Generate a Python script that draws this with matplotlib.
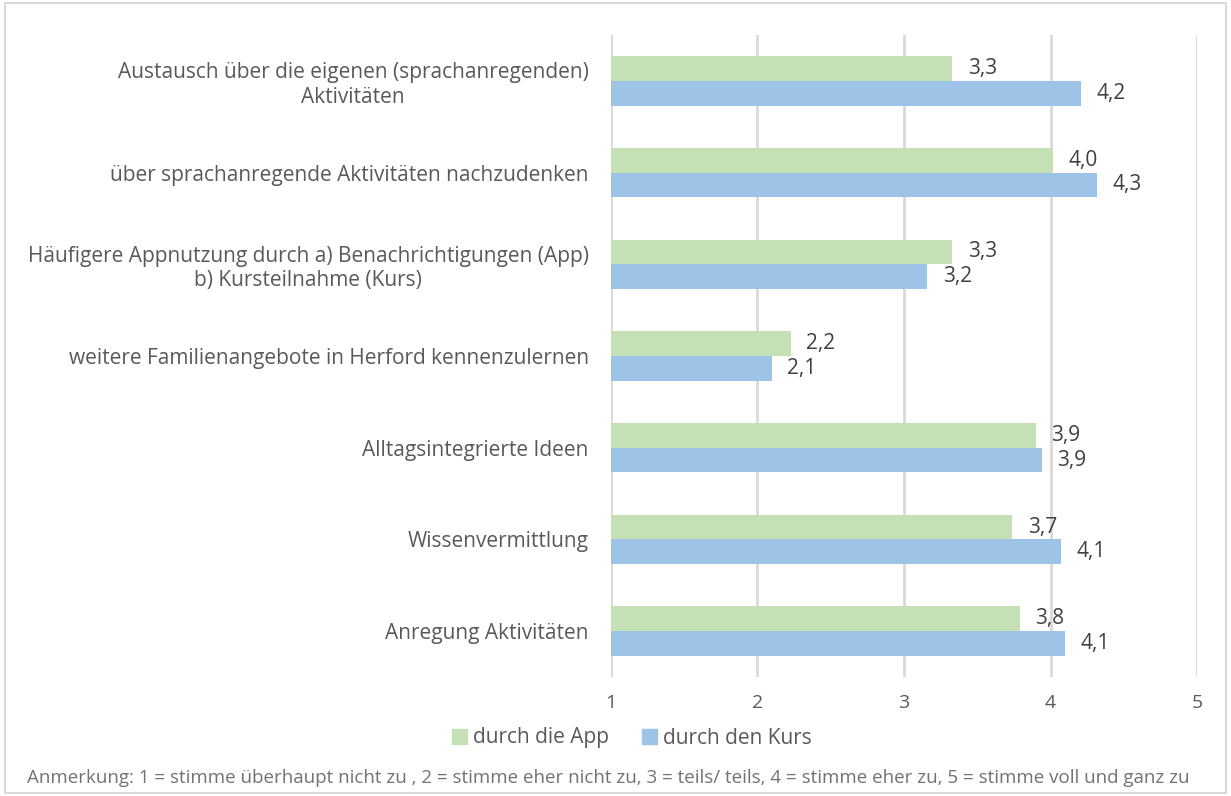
import numpy as np
import matplotlib.pyplot as plt
from matplotlib.patches import Rectangle, Patch

# Daten (von oben nach unten)
categories = [
    "Austausch über die eigenen (sprachanregenden)\nAktivitäten",
    "über sprachanregende Aktivitäten nachzudenken",
    "Häufigere Appnutzung durch a) Benachrichtigungen (App)\nb) Kursteilnahme (Kurs)",
    "weitere Familienangebote in Herford kennenzulernen",
    "Alltagsintegrierte Ideen",
    "Wissenvermittlung",
    "Anregung Aktivitäten",
]
app = [3.33, 4.02, 3.33, 2.23, 3.90, 3.74, 3.79]
kurs = [4.21, 4.32, 3.16, 2.10, 3.94, 4.07, 4.10]
series_names = ["durch die App", "durch den Kurs"]
xticks = [1, 2, 3, 4, 5]
note = ("Anmerkung: 1 = stimme überhaupt nicht zu , 2 = stimme eher nicht zu, "
        "3 = teils/ teils, 4 = stimme eher zu, 5 = stimme voll und ganz zu")

GREEN = "#C5E0B4"
BLUE = "#9DC3E6"
TXT = "#595959"
VAL = "#404040"
GRID = "#D9D9D9"

plt.rcParams['font.family'] = ['Open Sans', 'DejaVu Sans']

fig = plt.figure(figsize=(12.31, 7.96), dpi=100)
ax = fig.add_axes([0.4963, 0.1495, 0.4761, 0.8065])

y = np.arange(len(categories))
h = 0.27
base = 1
ax.barh(y - h / 2, np.array(app) - base, left=base, height=h, color=GREEN, zorder=2)
ax.barh(y + h / 2, np.array(kurs) - base, left=base, height=h, color=BLUE, zorder=2)

for yi, v in zip(y, app):
    ax.annotate(f"{v:.1f}".replace(".", ","), (v, yi - h / 2), xytext=(11, 0),
                textcoords="offset points", va="center", ha="left", fontsize=15, color=VAL)
for yi, v in zip(y, kurs):
    ax.annotate(f"{v:.1f}".replace(".", ","), (v, yi + h / 2), xytext=(11, 0),
                textcoords="offset points", va="center", ha="left", fontsize=15, color=VAL)

ax.set_xlim(1, 5)
ax.set_ylim(len(categories) - 0.5, -0.5)
ax.set_xticks(xticks)
ax.set_xticklabels([str(t) for t in xticks], fontsize=14, color=TXT)
ax.set_yticks(y)
ax.set_yticklabels(categories, fontsize=15, color=TXT, multialignment="center")
ax.tick_params(axis="both", length=0)
ax.tick_params(axis="y", pad=16)
ax.tick_params(axis="x", pad=12)
ax.grid(axis="x", color=GRID, linewidth=2, zorder=0)
for s in ax.spines.values():
    s.set_visible(False)

handles = [Patch(color=GREEN, label=series_names[0]), Patch(color=BLUE, label=series_names[1])]
fig.legend(handles=handles, loc="center", bbox_to_anchor=(632 / 1231, 1 - 738 / 796),
           ncol=2, frameon=False, fontsize=15, labelcolor=TXT, handlelength=0.7,
           handleheight=0.7, handletextpad=0.3, columnspacing=1.6)

fig.text(27 / 1231, 1 - 778 / 796, note, fontsize=13.5, color="#767171", va="center", ha="left")

fig.patches.append(Rectangle((0.004, 0.004), 0.992, 0.992, transform=fig.transFigure,
                             fill=False, edgecolor=GRID, linewidth=1.5))

fig.savefig("out.png", dpi=100)
